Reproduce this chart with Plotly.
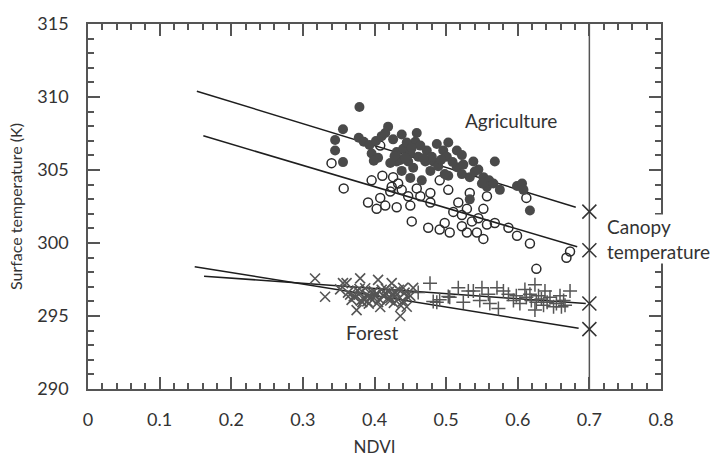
import plotly.graph_objects as go

# ---------------- data ----------------
agri_filled_x = [0.379, 0.356, 0.345, 0.345, 0.356, 0.378, 0.385, 0.393, 0.402, 0.410, 0.419, 0.415,
                 0.438, 0.426, 0.396, 0.405, 0.399, 0.431, 0.440, 0.450, 0.436, 0.447, 0.459, 0.457,
                 0.461, 0.473, 0.471, 0.438, 0.450, 0.466, 0.478, 0.487, 0.503, 0.496, 0.515, 0.522,
                 0.482, 0.489, 0.501, 0.503, 0.515, 0.524, 0.538, 0.545, 0.533, 0.552, 0.560, 0.568,
                 0.575, 0.557, 0.566, 0.550, 0.599, 0.606, 0.608, 0.617, 0.533, 0.498, 0.522, 0.464,
                 0.445, 0.431, 0.454, 0.422, 0.480, 0.428, 0.443, 0.452, 0.468, 0.493, 0.509, 0.540]
agri_filled_y = [309.31, 307.79, 307.06, 306.34, 305.54, 307.21, 306.93, 306.71, 306.99, 307.32, 307.97, 307.53,
                 307.43, 307.10, 306.13, 305.84, 305.63, 306.23, 306.45, 306.13, 305.69, 305.58, 307.53, 306.93,
                 305.91, 306.34, 305.58, 304.94, 304.46, 304.29, 304.94, 306.78, 306.88, 306.34, 306.34, 306.02,
                 305.58, 305.26, 305.91, 304.61, 305.19, 305.37, 305.58, 305.04, 304.51, 304.51, 304.29, 305.58,
                 303.64, 303.85, 304.07, 304.07, 303.90, 304.07, 303.64, 302.23, 302.99, 304.72, 304.72, 306.67,
                 306.88, 305.58, 305.15, 305.48, 305.91, 305.95, 305.85, 306.50, 305.80, 305.70, 305.55, 304.90]

agri_open_x = [0.340, 0.357, 0.396, 0.411, 0.426, 0.424, 0.433, 0.408, 0.422, 0.391, 0.403, 0.415,
               0.431, 0.447, 0.450, 0.464, 0.478, 0.478, 0.452, 0.475, 0.491, 0.498, 0.505, 0.510,
               0.517, 0.522, 0.529, 0.533, 0.529, 0.543, 0.536, 0.545, 0.552, 0.557, 0.552, 0.568,
               0.587, 0.599, 0.617, 0.612, 0.673, 0.668, 0.626, 0.557, 0.491, 0.503, 0.459, 0.522,
               0.408, 0.438]
agri_open_y = [305.47, 303.74, 304.29, 304.61, 304.51, 303.85, 304.07, 303.09, 303.53, 302.77, 302.34, 302.56,
               302.45, 303.20, 302.56, 303.20, 303.42, 302.77, 301.48, 301.04, 300.93, 301.37, 300.72, 302.13,
               302.77, 301.91, 302.34, 303.42, 300.72, 300.72, 301.48, 301.70, 302.34, 301.26, 300.28, 301.37,
               301.04, 300.50, 299.96, 303.09, 299.42, 298.99, 298.23, 303.20, 304.29, 303.64, 303.74, 301.15,
               306.67, 303.64]

forest_x_x = [0.317, 0.331, 0.352, 0.361, 0.380, 0.375, 0.405, 0.408, 0.424, 0.436, 0.440, 0.445,
              0.366, 0.380, 0.389, 0.394, 0.401, 0.415, 0.422, 0.429, 0.433, 0.440, 0.445, 0.385,
              0.371, 0.363, 0.394, 0.422, 0.450, 0.454, 0.356, 0.410, 0.399, 0.412, 0.427, 0.392,
              0.368, 0.376, 0.387, 0.403, 0.418, 0.431, 0.437, 0.383, 0.373, 0.381, 0.397, 0.407,
              0.416, 0.426, 0.434, 0.442, 0.379, 0.390, 0.405, 0.420]
forest_x_y = [297.57, 296.32, 296.82, 297.25, 297.58, 295.40, 297.47, 295.62, 297.25, 295.00, 296.93, 295.63,
              296.46, 296.57, 296.46, 296.24, 296.35, 296.57, 296.24, 296.68, 296.13, 296.02, 296.35, 296.13,
              296.35, 296.60, 296.28, 296.06, 296.38, 296.93, 297.25, 296.80, 296.70, 296.40, 295.90, 295.85,
              296.10, 296.75, 296.90, 296.55, 296.20, 296.45, 295.70, 295.95, 296.30, 296.05, 296.60, 296.15,
              296.85, 296.50, 296.80, 296.60, 296.85, 296.00, 295.95, 296.65]

forest_p_x = [0.4775, 0.461, 0.482, 0.491, 0.503, 0.517, 0.505, 0.524, 0.538, 0.550, 0.547, 0.571,
              0.573, 0.580, 0.587, 0.594, 0.598, 0.603, 0.610, 0.612, 0.617, 0.619, 0.624, 0.624,
              0.629, 0.633, 0.638, 0.641, 0.645, 0.654, 0.659, 0.664, 0.666, 0.673, 0.661, 0.487,
              0.531, 0.559, 0.561, 0.626, 0.636, 0.650]
forest_p_y = [297.25, 296.61, 296.00, 296.12, 296.34, 296.93, 296.28, 295.95, 296.71, 296.93, 296.06, 296.93,
              295.52, 296.71, 296.49, 296.06, 296.38, 295.85, 296.82, 296.28, 296.49, 296.06, 297.14, 295.41,
              296.38, 296.17, 296.71, 295.95, 296.28, 295.85, 296.38, 296.06, 295.74, 296.71, 295.63, 295.95,
              296.71, 296.49, 295.85, 295.95, 295.74, 295.63]

# regression lines (end points)
agri_hi_x, agri_hi_y = [0.152, 0.681], [310.40, 302.45]
agri_lo_x, agri_lo_y = [0.161, 0.683], [307.34, 299.74]
for_flat_x, for_flat_y = [0.162, 0.695], [297.73, 295.85]
for_steep_x, for_steep_y = [0.149, 0.685], [298.38, 294.16]

# canopy temperatures at NDVI = 0.7
canopy_x = [0.7, 0.7, 0.7, 0.7]
canopy_y = [302.15, 299.50, 295.85, 294.10]
vline_x, vline_y = [0.7, 0.7], [290, 315]

x_ticks = [0, 0.1, 0.2, 0.3, 0.4, 0.5, 0.6, 0.7, 0.8]
x_tick_labels = ["0", "0.1", "0.2", "0.3", "0.4", "0.5", "0.6", "0.7", "0.8"]
y_ticks = [290, 295, 300, 305, 310, 315]

# ---------------- figure ----------------
FONT = "Lato"
line_col = "#1e1e1e"
txt_col = "#333333"
fig = go.Figure()

for lx, ly in [(agri_hi_x, agri_hi_y), (agri_lo_x, agri_lo_y),
               (for_flat_x, for_flat_y), (for_steep_x, for_steep_y)]:
    fig.add_trace(go.Scatter(x=lx, y=ly, mode="lines",
                             line=dict(color=line_col, width=1.5), showlegend=False))

fig.add_trace(go.Scatter(x=vline_x, y=vline_y, mode="lines",
                         line=dict(color="#555555", width=1.5), showlegend=False))

fig.add_trace(go.Scatter(x=agri_open_x, y=agri_open_y, mode="markers",
                         marker=dict(symbol="circle-open", size=9, color="#2a2a2a",
                                     line=dict(width=1.5)), showlegend=False))
fig.add_trace(go.Scatter(x=agri_filled_x, y=agri_filled_y, mode="markers",
                         marker=dict(symbol="circle", size=10, color="#4a4a4a",
                                     line=dict(width=0)), showlegend=False))
fig.add_trace(go.Scatter(x=forest_x_x, y=forest_x_y, mode="markers",
                         marker=dict(symbol="x-thin", size=10, color="#555555",
                                     line=dict(width=1.6, color="#555555")), showlegend=False))
fig.add_trace(go.Scatter(x=forest_p_x, y=forest_p_y, mode="markers",
                         marker=dict(symbol="cross-thin", size=10, color="#555555",
                                     line=dict(width=1.5, color="#555555")), showlegend=False))
fig.add_trace(go.Scatter(x=canopy_x, y=canopy_y, mode="markers",
                         marker=dict(symbol="x-thin", size=14, color="#333333",
                                     line=dict(width=1.5, color="#333333")), showlegend=False))

axis_common = dict(showgrid=False, zeroline=False, showline=True, linecolor="#555555",
                   linewidth=1.5, ticks="inside", ticklen=12, tickwidth=1.5,
                   tickcolor="#555555", mirror="ticks",
                   tickfont=dict(family=FONT, size=18, color=txt_col))

fig.update_xaxes(range=[0, 0.8], tickvals=x_ticks, ticktext=x_tick_labels,
                 minor=dict(ticks="inside", ticklen=6, tickwidth=1.5, tickcolor="#555555", dtick=0.02),
                 title=dict(text="NDVI", font=dict(family=FONT, size=17, color=txt_col), standoff=12),
                 ticklabelstandoff=14, **axis_common)
fig.update_yaxes(range=[290, 315], tickvals=y_ticks,
                 minor=dict(ticks="inside", ticklen=6, tickwidth=1.5, tickcolor="#555555", dtick=1),
                 title=dict(text="Surface temperature (K)", font=dict(family=FONT, size=16, color=txt_col),
                            standoff=11),
                 ticklabelstandoff=14, **axis_common)

ann_font = dict(family=FONT, size=19, color=txt_col)
fig.add_annotation(x=0.591, y=308.4, text="Agriculture", showarrow=False, font=ann_font,
                   xanchor="center", yanchor="middle")
fig.add_annotation(x=0.397, y=293.9, text="Forest", showarrow=False, font=ann_font,
                   xanchor="center", yanchor="middle")
fig.add_annotation(x=0.7235, y=300.3, text="Canopy<br>temperature", showarrow=False, font=ann_font,
                   xanchor="left", yanchor="middle", align="left", bgcolor="white", borderpad=0)

fig.update_layout(width=714, height=466, plot_bgcolor="white", paper_bgcolor="white",
                  margin=dict(l=88, r=53, t=15, b=66))

fig.write_html("out.html")
